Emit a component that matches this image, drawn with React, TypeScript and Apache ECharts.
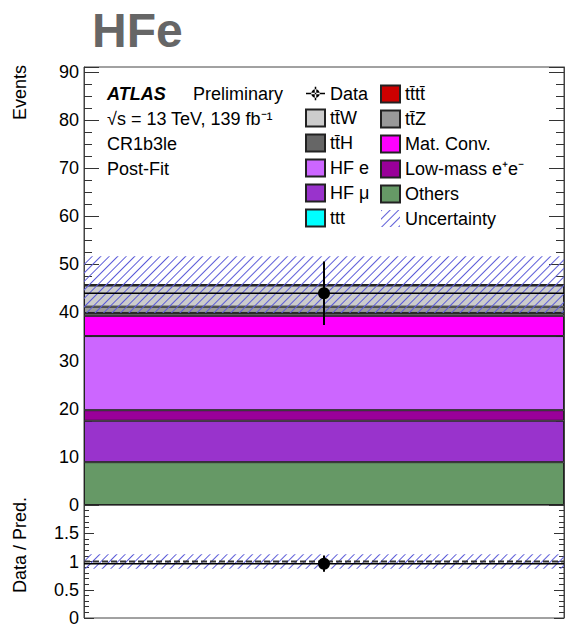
import React, { useEffect, useRef } from 'react';
import * as echarts from 'echarts';

const categories = ['CR1b3le'];
const bkgNames = ['Others', 'HF μ', 'Low-mass e⁺e⁻', 'HF e', 'Mat. Conv.', 'tt\u0304H', 'tt\u0304Z', 'tt\u0304W', 'tt\u0304tt\u0304', 'ttt'];
const bkgValues = [8.9, 8.6, 2.2, 15.4, 4.2, 0.6, 1.3, 4.4, 0.15, 0.05];
const bkgColors = ['#669966', '#9933cc', '#990099', '#cc66ff', '#ff00ff', '#666666', '#999999', '#cccccc', '#cc0000', '#00ffff'];
const dataValues = [44];
const dataErrors = [6.6];
const totalUncertainty = [5.9];
const ratioTickLabels = [0, 0.5, 1, 1.5];
const legendCol1 = ['Data', 'tt\u0304W', 'tt\u0304H', 'HF e', 'HF μ', 'ttt'];
const legendCol2 = ['tt\u0304tt\u0304', 'tt\u0304Z', 'Mat. Conv.', 'Low-mass e⁺e⁻', 'Others', 'Uncertainty'];

const FONT = "'Liberation Sans', Arial, Helvetica, sans-serif";

const hatch = {
  symbol: 'rect',
  symbolSize: 1,
  color: '#5c5cd8',
  dashArrayX: [1, 0],
  dashArrayY: [1, 5],
  rotation: -Math.PI / 4,
};

const dataIcon = 'path://M0,6.2h20v1.6h-20z M9.2,0h1.6v14h-1.6z M5.5,7a4.5,4.5 0 1,0 9,0a4.5,4.5 0 1,0 -9,0z';

function errRender(params: any, api: any) {
  const x = api.value(0);
  const c = api.coord([x, api.value(1)]);
  const lo = api.coord([x, api.value(2)]);
  const hi = api.coord([x, api.value(3)]);
  const w = api.size([1, 0])[0];
  return {
    type: 'group',
    children: [
      { type: 'line', shape: { x1: c[0] - w / 2, y1: c[1], x2: c[0] + w / 2, y2: c[1] }, style: { stroke: '#000', lineWidth: 1.5 } },
      { type: 'line', shape: { x1: c[0], y1: hi[1], x2: c[0], y2: lo[1] }, style: { stroke: '#000', lineWidth: 2 } },
      { type: 'circle', shape: { cx: c[0], cy: c[1], r: 6 }, style: { fill: '#000' } },
    ],
  };
}

function refRender(params: any, api: any) {
  const x = api.value(0);
  const c = api.coord([x, api.value(1)]);
  const w = api.size([1, 0])[0];
  return {
    type: 'line',
    shape: { x1: c[0] - w / 2, y1: c[1], x2: c[0] + w / 2, y2: c[1] },
    style: { stroke: '#333', lineWidth: 2, lineDash: [6, 3] },
  };
}

export default function App() {
  const ref = useRef<HTMLDivElement>(null);
  useEffect(() => {
    const chart = echarts.init(ref.current!, null, { renderer: 'svg' });
    const total = bkgValues.reduce((a, b) => a + b, 0);
    const unc = totalUncertainty[0];
    const ratio = dataValues[0] / total;
    const ratioErr = dataErrors[0] / total;
    const relUnc = unc / total;

    const yCommon = (grid: number, pos: string, min: number, max: number, interval: number, major: number, minor: number, minorSplit: number, labels: boolean, fmt: any, showMax: boolean, custom?: number[]) => ({
      type: 'value',
      gridIndex: grid,
      position: pos,
      min,
      max,
      interval,
      axisLine: { show: true, lineStyle: { color: '#444', width: 1 } },
      axisTick: { show: true, inside: true, length: major, lineStyle: { color: '#333', width: 1 } },
      minorTick: { show: true, splitNumber: minorSplit, length: minor, lineStyle: { color: '#333', width: 1 } },
      splitLine: { show: false },
      minorSplitLine: { show: false },
      axisLabel: {
        show: labels, fontSize: 18, color: '#000', margin: 5, fontFamily: FONT, formatter: fmt,
        showMaxLabel: showMax, showMinLabel: true, hideOverlap: false,
        ...(custom ? { customValues: custom } : {}),
      },
    });

    const mainFmt = (v: number) => (Math.abs(v % 10) < 1e-6 ? String(v) : '');
    const ratioFmt = (v: number) => String(v);

    const series: any[] = bkgNames.map((n, i) => ({
      type: 'bar',
      name: n,
      xAxisIndex: 0,
      yAxisIndex: 0,
      stack: 'mc',
      barWidth: '100%',
      barGap: '-100%',
      data: [bkgValues[i]],
      itemStyle: { color: bkgColors[i], borderColor: '#222', borderWidth: 1 },
      emphasis: { disabled: true },
      z: 2,
    }));
    series.push({
      type: 'bar', name: 'uncBase', xAxisIndex: 0, yAxisIndex: 0, stack: 'unc', barWidth: '100%', barGap: '-100%',
      data: [total - unc], itemStyle: { color: 'rgba(0,0,0,0)', borderWidth: 0 }, silent: true, emphasis: { disabled: true }, z: 3,
    });
    series.push({
      type: 'bar', name: 'Uncertainty', xAxisIndex: 0, yAxisIndex: 0, stack: 'unc', barWidth: '100%', barGap: '-100%',
      data: [2 * unc], itemStyle: { color: 'rgba(0,0,0,0)', borderWidth: 0, decal: hatch }, emphasis: { disabled: true }, z: 3,
    });
    series.push({
      type: 'custom', name: 'Data', xAxisIndex: 0, yAxisIndex: 0, renderItem: errRender,
      data: [[0, dataValues[0], dataValues[0] - dataErrors[0], dataValues[0] + dataErrors[0]]],
      encode: { x: 0, y: 1 }, itemStyle: { color: '#000' }, z: 10,
    });
    // ratio panel
    series.push({
      type: 'bar', name: 'ratioBase', xAxisIndex: 1, yAxisIndex: 2, stack: 'runc', barWidth: '100%', barGap: '-100%',
      data: [1 - relUnc], itemStyle: { color: 'rgba(0,0,0,0)', borderWidth: 0 }, silent: true, emphasis: { disabled: true }, z: 3,
    });
    series.push({
      type: 'bar', name: 'ratioUnc', xAxisIndex: 1, yAxisIndex: 2, stack: 'runc', barWidth: '100%', barGap: '-100%',
      data: [2 * relUnc], itemStyle: { color: 'rgba(0,0,0,0)', borderWidth: 0, decal: hatch }, emphasis: { disabled: true }, z: 3,
    });
    series.push({
      type: 'custom', name: 'ratioRef', xAxisIndex: 1, yAxisIndex: 2, renderItem: refRender,
      data: [[0, 1]], encode: { x: 0, y: 1 }, z: 8,
    });
    series.push({
      type: 'custom', name: 'ratioData', xAxisIndex: 1, yAxisIndex: 2, renderItem: errRender,
      data: [[0, ratio, ratio - ratioErr, ratio + ratioErr]], encode: { x: 0, y: 1 }, z: 10,
    });

    const legendBase = {
      orient: 'vertical',
      top: 84.5,
      padding: 0,
      itemWidth: 19,
      itemHeight: 17,
      itemGap: 6,
      icon: 'rect',
      selectedMode: false,
      textStyle: { fontSize: 18, color: '#000', fontFamily: FONT },
    };

    const txt = (text: string, x: number, y: number, font: string, extra: any = {}) => ({
      type: 'text',
      x,
      y,
      ...extra,
      style: {
        text,
        font,
        fill: extra.fill || '#000',
        textAlign: extra.align || 'left',
        align: extra.align || 'left',
        textVerticalAlign: 'middle',
        verticalAlign: 'middle',
      },
    });

    const option: any = {
      animation: false,
      backgroundColor: '#fff',
      textStyle: { fontFamily: FONT },
      grid: [
        { left: 84, top: 67, width: 480, height: 438, show: true, borderColor: '#444', borderWidth: 1, backgroundColor: 'transparent' },
        { left: 84, top: 505, width: 480, height: 113, show: true, borderColor: '#444', borderWidth: 1, backgroundColor: 'transparent' },
      ],
      xAxis: [
        { type: 'category', gridIndex: 0, position: 'top', data: categories, axisLabel: { show: false, fontSize: 1 }, axisTick: { show: false }, axisLine: { show: false } },
        { type: 'category', gridIndex: 1, position: 'bottom', data: categories, axisLabel: { show: false, fontSize: 1 }, axisTick: { show: false }, axisLine: { show: false } },
      ],
      yAxis: [
        yCommon(0, 'left', 0, 91, 10, 15, 8, 4, true, mainFmt, true),
        yCommon(0, 'right', 0, 91, 10, 15, 8, 4, false, mainFmt, true),
        yCommon(1, 'left', 0, 2, 0.5, 10, 5, 5, true, ratioFmt, true, ratioTickLabels),
        yCommon(1, 'right', 0, 2, 0.5, 10, 5, 5, false, ratioFmt, true),
      ],
      legend: [
        { ...legendBase, left: 305, data: legendCol1.map((n) => (n === 'Data' ? { name: n, icon: dataIcon } : { name: n })) },
        { ...legendBase, left: 380, data: legendCol2.map((n) => ({ name: n })) },
      ],
      graphic: [
        txt('HFe', 92, 30, `bold 48px ${FONT}`, { fill: '#666666' }),
        txt('ATLAS', 107, 94, `italic bold 18px ${FONT}`),
        txt('Preliminary', 193, 94, `18px ${FONT}`),
        txt('√s = 13 TeV, 139 fb⁻¹', 107, 119, `18px ${FONT}`),
        txt('CR1b3le', 107, 144, `18px ${FONT}`),
        txt('Post-Fit', 107, 169, `18px ${FONT}`),
        txt('Events', 20, 65, `18px ${FONT}`, { align: 'right', rotation: Math.PI / 2 }),
        txt('Data / Pred.', 20, 497, `18px ${FONT}`, { align: 'right', rotation: Math.PI / 2 }),
      ],
      series,
    };
    chart.setOption(option);
    return () => chart.dispose();
  }, []);
  return <div ref={ref} style={{ position: 'absolute', left: 0, top: 0, width: 569, height: 627, background: '#fff' }} />;
}
